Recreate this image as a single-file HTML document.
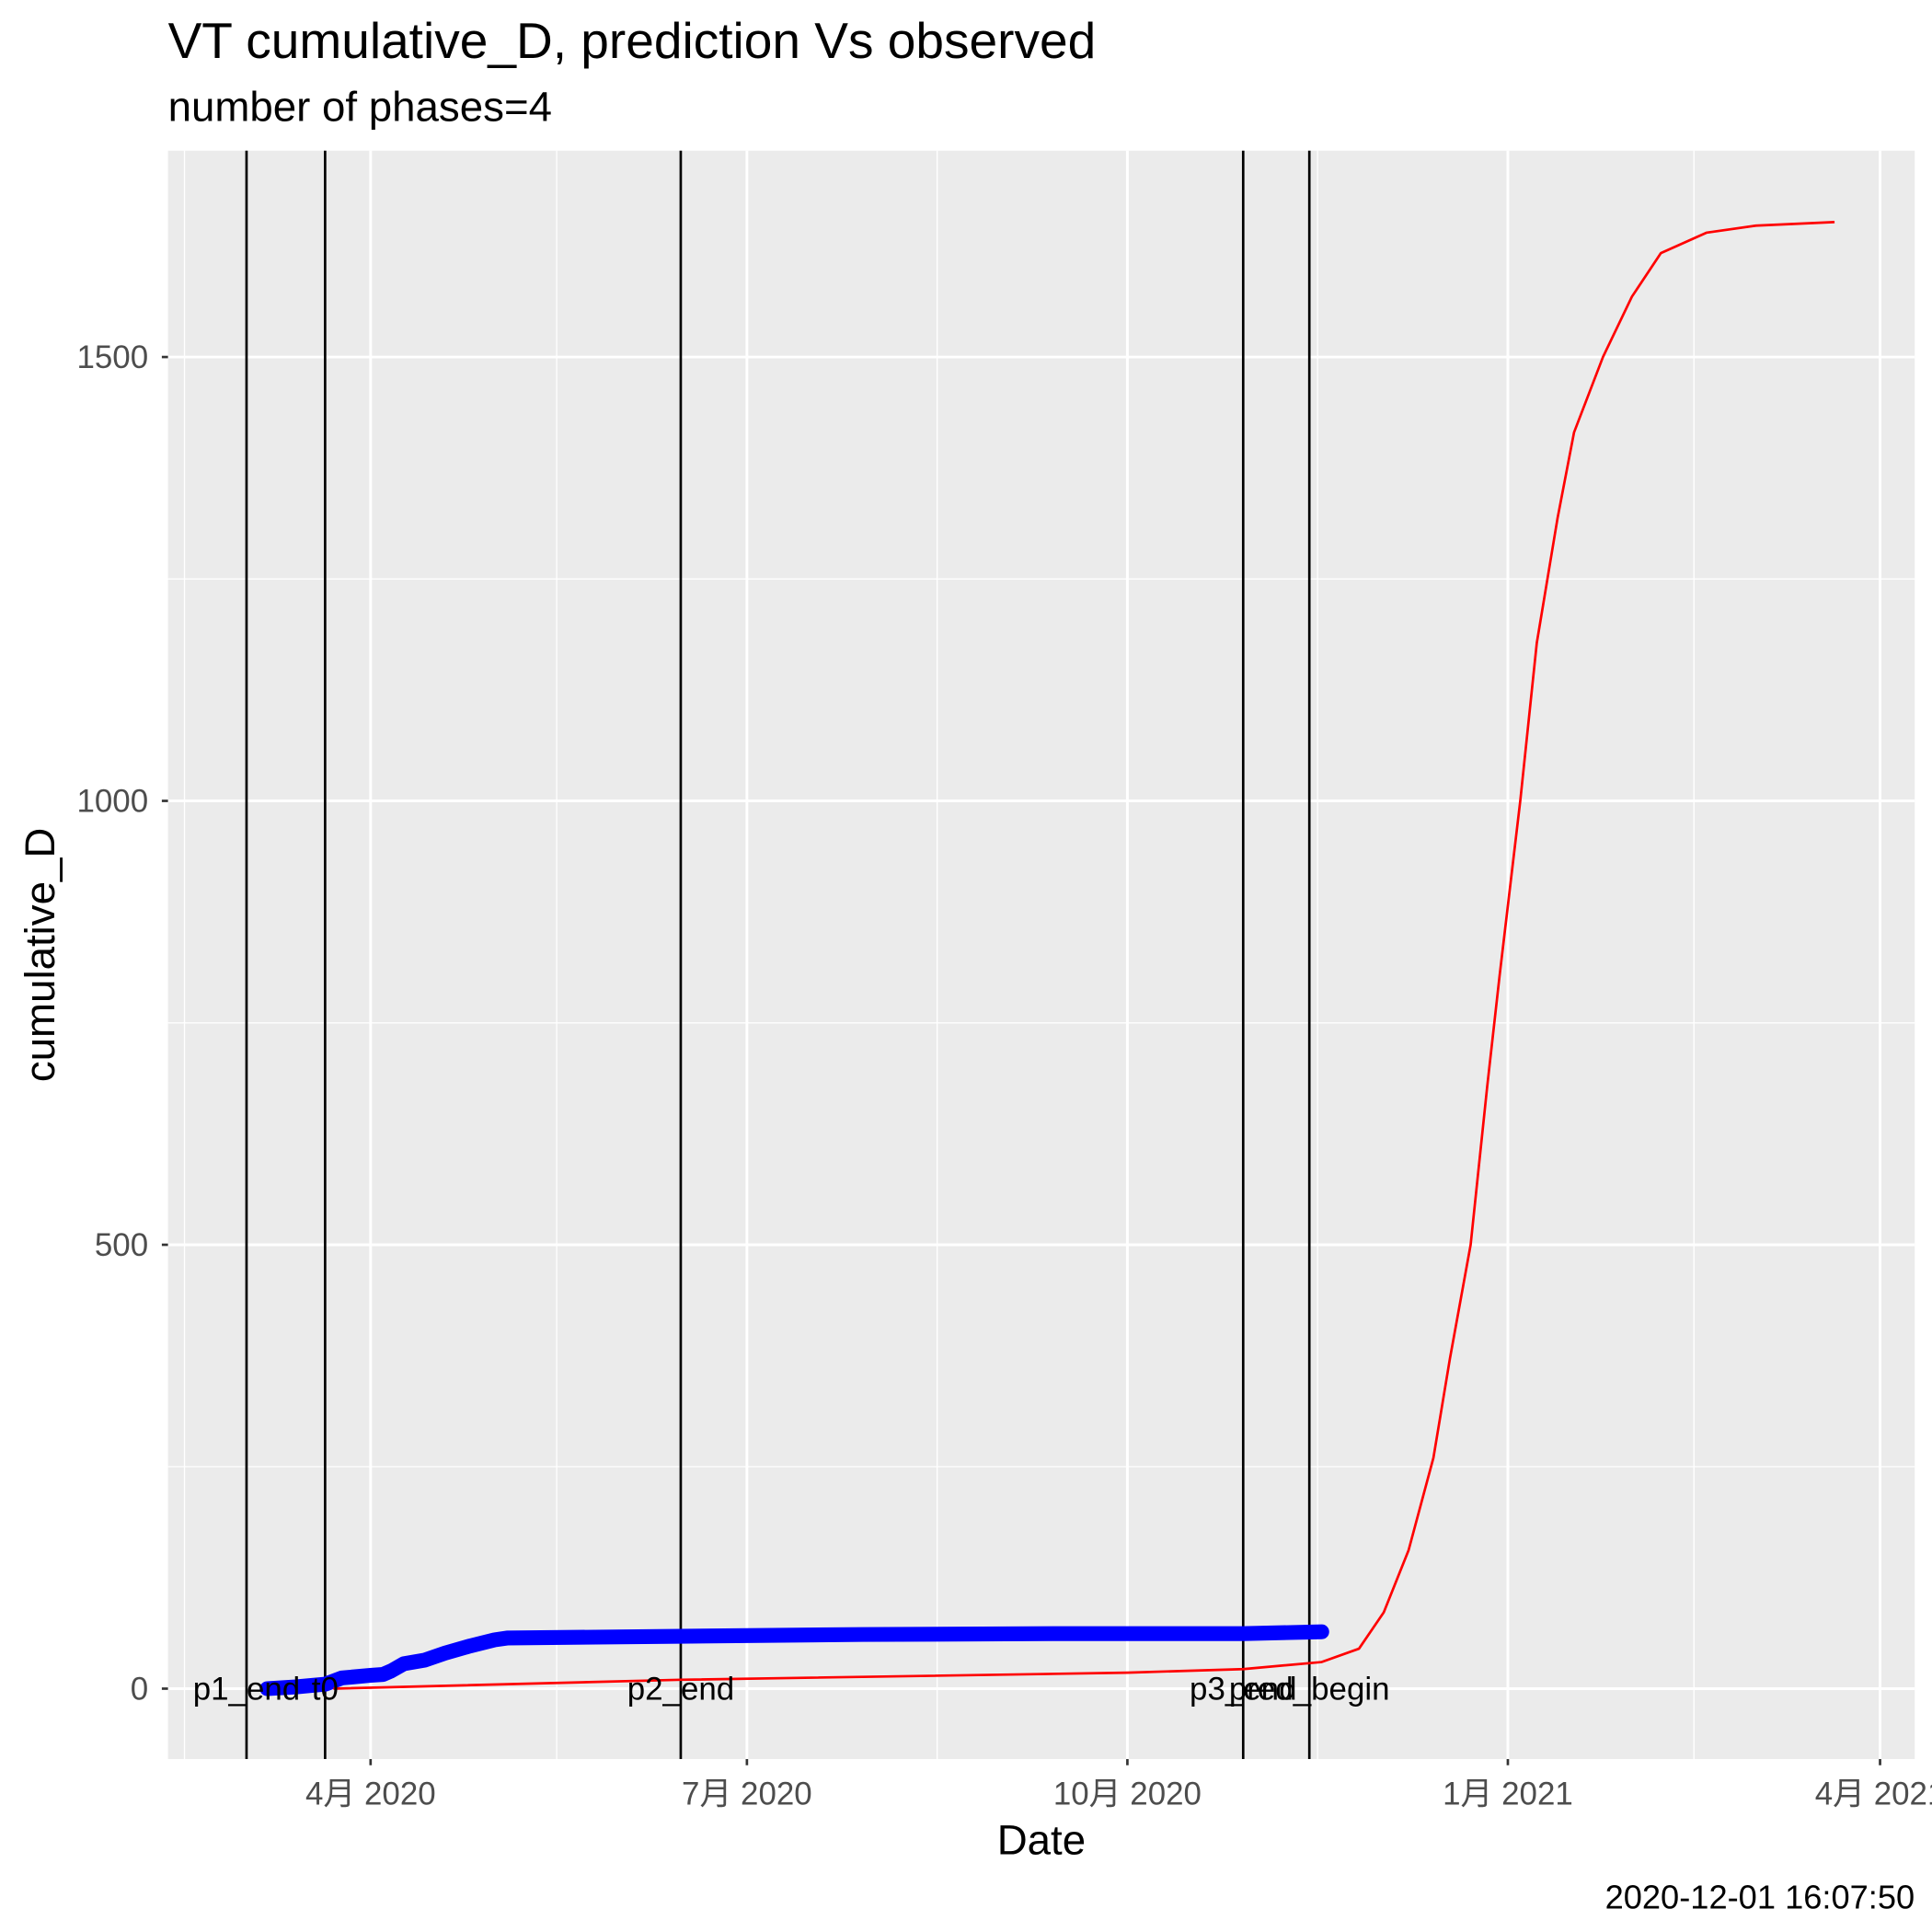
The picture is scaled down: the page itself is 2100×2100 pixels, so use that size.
<!DOCTYPE html>
<html><head><meta charset="utf-8"><style>
html,body{margin:0;padding:0;background:#fff;}
svg{display:block;font-family:"Liberation Sans","Noto Sans CJK SC",sans-serif;}
</style></head>
<body>
<svg id="chart" width="2100" height="2100" viewBox="0 0 1564 1564" xmlns="http://www.w3.org/2000/svg">
<rect x="0" y="0" width="1564" height="1564" fill="#fff"/>
<text x="136" y="47" font-size="41" fill="#000">VT cumulative_D,  prediction Vs observed</text>
<text x="136" y="98" font-size="34" fill="#000">number of phases=4</text>
<rect x="136" y="122" width="1414" height="1302" fill="#EBEBEB"/>
<g id="grid"></g>
<g id="vlines"></g>
<g id="series"></g>
<g id="labels"></g>
<g id="axes"></g>
<text x="843" y="1501" font-size="34" text-anchor="middle" fill="#000">Date</text>
<text transform="translate(44,773) rotate(-90)" font-size="34" text-anchor="middle" fill="#000">cumulative_D</text>
<text x="1550" y="1545" font-size="27" text-anchor="end" fill="#000">2020-12-01 16:07:50</text>
</svg>
<script>
// Data (days since 2020-01-01)
const obsDays = [66, 73, 80, 84, 91, 94, 96, 99, 104, 109, 115, 121, 124, 166, 210, 260, 302, 321];
const obsValues = [0, 2, 5, 12, 15, 16, 20, 28, 32, 40, 48, 55, 57, 59, 61, 62, 62, 64];
const predDays = [82, 166, 274, 302, 321, 330, 336, 342, 348, 352, 357, 361, 364, 369, 373, 378, 382, 389, 396, 403, 414, 426, 445];
const predValues = [0, 10, 18, 22, 30, 45, 86, 156, 260, 372, 500, 678, 803, 1000, 1178, 1318, 1415, 1500, 1568, 1617, 1640, 1648, 1652];
const phaseDays = [61, 80, 166, 302, 318];
const phaseNames = ["p1_end", "t0", "p2_end", "p3_end", "pred_begin"];
const xTickDays = [91, 182, 274, 366, 456];
const xTickLabels = ["4月 2020", "7月 2020", "10月 2020", "1月 2021", "4月 2021"];
const xMinorDays = [46, 136, 228, 320, 411];
const yTicks = [0, 500, 1000, 1500];
const yMinor = [250, 750, 1250];

const NS = "http://www.w3.org/2000/svg";
const P = {l:136, r:1550, t:122, b:1424};
const xs = d => 300 + (d - 91) * 3.3478;
const ys = v => 1367 - v * 0.71866;
function mk(tag, attrs, parent){const e=document.createElementNS(NS,tag);for(const k in attrs)e.setAttribute(k,attrs[k]);parent.appendChild(e);return e;}
const grid=document.getElementById('grid'), axes=document.getElementById('axes');
yMinor.forEach(v=>{const e=mk('line',{x1:P.l,x2:P.r,y1:ys(v),y2:ys(v),stroke:'#fff','stroke-width':1},grid);

});
xMinorDays.forEach(d=>{const e=mk('line',{x1:xs(d),x2:xs(d),y1:P.t,y2:P.b,stroke:'#fff','stroke-width':1},grid);

});
yTicks.forEach(v=>{const e=mk('line',{x1:P.l,x2:P.r,y1:ys(v),y2:ys(v),stroke:'#fff','stroke-width':2.2},grid);


const t=mk('line',{x1:P.l-5,x2:P.l,y1:ys(v),y2:ys(v),stroke:'#333','stroke-width':2},axes);


const l=mk('text',{x:P.l-16,y:ys(v)+9,'font-size':26,'text-anchor':'end',fill:'#4D4D4D'},axes);l.textContent=v;

});
xTickDays.forEach((d,i)=>{const e=mk('line',{x1:xs(d),x2:xs(d),y1:P.t,y2:P.b,stroke:'#fff','stroke-width':2.2},grid);


const t=mk('line',{x1:xs(d),x2:xs(d),y1:P.b,y2:P.b+5,stroke:'#333','stroke-width':2},axes);


const l=mk('text',{x:xs(d),y:P.b+37,'font-size':26,'text-anchor':'middle',fill:'#4D4D4D'},axes);l.textContent=xTickLabels[i];

});
const vl=document.getElementById('vlines');
phaseDays.forEach(d=>{const e=mk('line',{x1:xs(d),x2:xs(d),y1:P.t,y2:P.b,stroke:'#000','stroke-width':2},vl);

});
const ser=document.getElementById('series');
const obs=mk('polyline',{points:obsDays.map((d,i)=>xs(d)+','+ys(obsValues[i])).join(' '),fill:'none',stroke:'#0000FF','stroke-width':12,'stroke-linejoin':'round','stroke-linecap':'round'},ser);


const pred=mk('polyline',{points:predDays.map((d,i)=>xs(d)+','+ys(predValues[i])).join(' '),fill:'none',stroke:'#FF0000','stroke-width':2,'stroke-linejoin':'round'},ser);


const lb=document.getElementById('labels');
phaseDays.forEach((d,i)=>{const t=mk('text',{x:xs(d),y:ys(0)+9,'font-size':26,'text-anchor':'middle',fill:'#000'},lb);t.textContent=phaseNames[i];

});
</script>
</body></html>
